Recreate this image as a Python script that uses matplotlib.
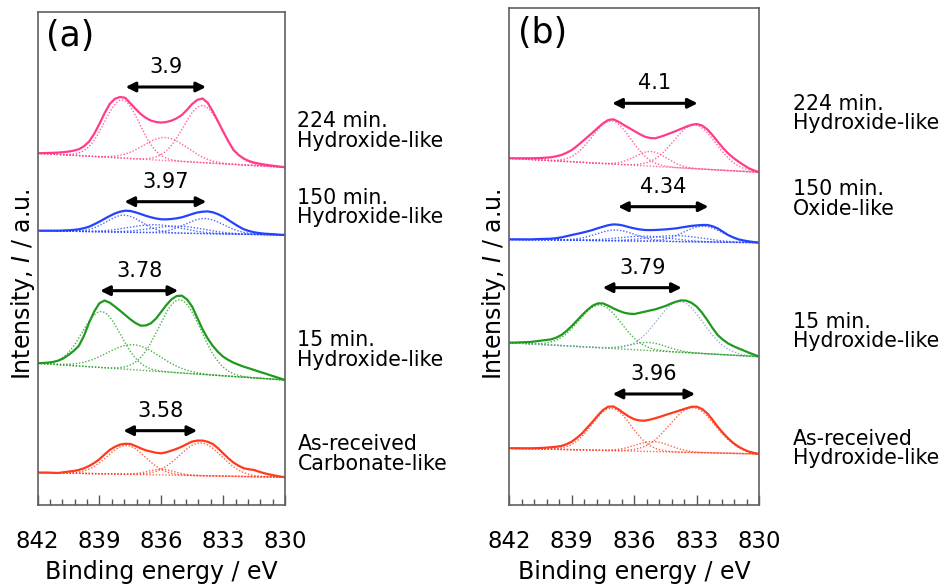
import numpy as np
import matplotlib.pyplot as plt
from matplotlib.ticker import FixedLocator

# binding energy grid of the measured spectra (eV), 0.25 eV steps
ENERGY = np.linspace(842, 830, 49)

# measured La 3d5/2 spectra (a.u., above each trace's offset)
a_224 = [14.0, 14.2, 14.3, 14.5, 14.7, 15.1, 15.7, 16.6, 18.0, 21.0, 25.7, 33.5, 43.3,
         54.0, 63.3, 68.5, 70.3, 69.5, 64.0, 58.5, 53.3, 49.5, 46.7, 45.3, 44.7,
         45.3, 46.7, 49.0, 52.3, 57.5, 63.3, 67.5, 68.8, 64.5, 55.7, 46.0, 35.7,
         26.0, 17.3, 12.3, 8.7, 6.3, 4.7, 3.6, 2.7, 2.0, 1.3, 0.7, 0.0]
a_150 = [4.3, 4.3, 4.3, 4.3, 4.3, 4.5, 4.7, 5.1, 5.7, 6.8, 8.3, 10.7, 13.3,
         16.2, 19.0, 21.5, 23.3, 24.3, 24.0, 22.7, 21.0, 19.2, 17.7, 16.5, 15.7,
         15.6, 16.0, 16.7, 17.7, 19.3, 21.0, 22.5, 23.3, 23.6, 22.7, 20.8, 18.3,
         15.0, 11.7, 8.5, 5.7, 4.0, 2.7, 1.9, 1.3, 1.0, 0.7, 0.3, 0.0]
a_15 = [16.7, 17.0, 17.3, 18.0, 19.3, 21.5, 25.0, 29.0, 34.0, 44.0, 57.3, 68.5, 76.7,
        79.5, 77.3, 73.5, 69.3, 65.0, 60.7, 57.0, 54.3, 54.5, 56.7, 61.5, 68.3,
        75.0, 80.7, 84.0, 84.3, 80.5, 73.3, 62.0, 50.7, 41.5, 34.0, 28.0, 23.3,
        20.0, 17.3, 15.2, 13.3, 11.7, 10.0, 8.3, 6.7, 5.0, 3.3, 1.7, 0.0]
a_asr = [4.7, 4.7, 4.7, 4.5, 4.3, 5.0, 5.7, 6.3, 7.3, 9.0, 11.3, 14.3, 18.0,
         22.8, 27.3, 30.5, 32.7, 33.5, 33.3, 31.3, 29.0, 27.0, 25.7, 24.5, 24.0,
         25.0, 26.7, 28.5, 30.7, 33.3, 35.7, 36.7, 36.7, 35.5, 33.3, 29.0, 24.0,
         19.0, 14.7, 11.5, 9.0, 8.0, 7.3, 5.5, 4.0, 2.8, 1.7, 0.8, 0.0]

b_224 = [14.0, 14.0, 14.0, 14.0, 14.0, 14.1, 14.3, 14.6, 15.0, 16.0, 17.3, 19.5, 22.3,
         26.3, 30.7, 35.2, 39.7, 44.5, 49.0, 52.3, 53.0, 50.5, 47.3, 44.3, 41.3,
         38.3, 35.7, 34.3, 34.0, 35.5, 37.3, 39.3, 41.3, 43.5, 45.7, 47.5, 48.3,
         46.8, 43.0, 37.3, 30.7, 24.5, 19.0, 14.5, 10.7, 7.2, 4.0, 1.8, 0.0]
b_150 = [3.3, 3.3, 3.3, 3.3, 3.3, 3.5, 3.7, 3.8, 4.0, 4.5, 5.3, 6.5, 7.7,
         8.8, 10.0, 11.3, 12.7, 14.5, 16.0, 17.5, 18.3, 18.0, 17.0, 15.5, 14.3,
         13.3, 12.7, 12.6, 12.7, 13.0, 13.3, 13.8, 14.3, 15.2, 16.0, 16.8, 17.3,
         17.7, 17.7, 16.5, 14.3, 11.0, 7.7, 5.3, 3.3, 2.2, 1.3, 0.6, 0.0]
b_15 = [14.0, 14.1, 14.3, 14.5, 14.7, 15.3, 16.0, 16.6, 17.3, 19.0, 21.7, 25.8, 30.7,
        36.2, 41.7, 46.8, 51.0, 53.3, 53.3, 51.0, 48.3, 46.0, 44.0, 43.0, 42.7,
        43.8, 45.0, 46.2, 47.3, 49.0, 50.7, 53.0, 55.0, 56.3, 56.0, 53.8, 50.0,
        44.0, 36.7, 28.8, 21.7, 17.0, 13.3, 10.6, 8.3, 6.2, 4.0, 2.0, 0.0]
b_asr = [5.7, 5.7, 5.7, 5.7, 5.7, 5.8, 6.0, 6.3, 6.7, 7.2, 8.0, 9.8, 12.3,
         16.2, 20.7, 26.5, 32.3, 38.5, 44.0, 47.3, 47.5, 44.5, 40.7, 37.3, 34.7,
         33.5, 33.3, 34.3, 35.7, 37.3, 39.0, 40.7, 42.3, 44.0, 45.7, 47.2, 47.3,
         45.0, 40.7, 34.3, 27.3, 21.2, 15.7, 11.0, 7.3, 4.5, 2.3, 0.9, 0.0]

# vertical offsets of the stacked traces
OFFSETS_A = [337.7, 270.0, 125.0, 27.7]
OFFSETS_B = [332.7, 262.3, 148.3, 51.0]

# fitted components: (centre eV, height, FWHM eV)
comp_a_224 = [(837.9, 58.0, 2.0), (835.8, 23.0, 2.5), (834.0, 57.0, 2.2)]
comp_a_150 = [(837.8, 17.0, 2.0), (836.3, 8.0, 3.0), (835.2, 7.0, 3.0), (833.9, 15.0, 2.2)]
comp_a_15 = [(838.9, 56.0, 2.2), (837.35, 25.0, 3.0), (835.1, 73.0, 2.4)]
comp_a_asr = [(837.7, 28.7, 2.2), (836.0, 5.7, 1.5), (834.1, 32.7, 2.4)]

comp_b_224 = [(837.1, 43.0, 2.2), (835.2, 14.7, 1.8), (833.1, 43.7, 2.4)]
comp_b_150 = [(836.9, 10.7, 2.2), (835.5, 5.0, 3.0), (834.0, 6.0, 3.0), (832.7, 15.7, 2.2)]
comp_b_15 = [(837.65, 42.7, 2.4), (835.3, 8.0, 2.0), (833.8, 50.7, 2.6)]
comp_b_asr = [(837.1, 42.3, 2.2), (835.1, 10.0, 2.0), (833.2, 44.7, 2.6)]

# satellite splitting (eV), arrow centre (eV) and arrow height (a.u.)
SPLIT_A = [3.9, 3.97, 3.78, 3.58]
ARROW_X_A = [835.78, 835.80, 837.07, 836.05]
ARROW_Y_A = [418.0, 303.3, 214.3, 74.3]

SPLIT_B = [4.1, 4.34, 3.79, 3.96]
ARROW_X_B = [835.01, 834.61, 835.62, 835.06]
ARROW_Y_B = [401.7, 298.3, 217.3, 111.0]

SAMPLES_A = ["224 min.\nHydroxide-like", "150 min.\nHydroxide-like",
             "15 min.\nHydroxide-like", "As-received\nCarbonate-like"]
SAMPLES_B = ["224 min.\nHydroxide-like", "150 min.\nOxide-like",
             "15 min.\nHydroxide-like", "As-received\nHydroxide-like"]
SAMPLE_Y_A = [374.2, 297.5, 155.0, 51.0]
SAMPLE_Y_B = [391.5, 306.0, 173.5, 56.5]

XTICKS = [842, 839, 836, 833, 830]

COLORS = ["#FF3C8C", "#2443FF", "#1E9A1E", "#FF3A1E"]

FINE = np.linspace(842, 830, 481)


def gauss(e, centre, height, fwhm):
    return height * np.exp(-4 * np.log(2) * ((e - centre) / fwhm) ** 2)


def draw_panel(ax, spectra, offsets, comps, splits, ax_x, ax_y, samples, sample_y,
               sample_x, tag, ytop, special=None):
    for i, (spec, off, comp) in enumerate(zip(spectra, offsets, comps)):
        c = COLORS[i]
        # linear background from the low-BE end to the high-BE start
        bg = spec[0] * (FINE - 830) / 12.0
        ax.plot(FINE, off + bg, color=c, lw=1.0, ls=(0, (1, 1.3)), alpha=0.75)
        for j, (cen, h, w) in enumerate(comp):
            cc = c
            if special is not None and special == (i, j):
                cc = "#7FA0D0"
            ax.plot(FINE, off + bg + gauss(FINE, cen, h, w), color=cc, lw=1.0,
                    ls=(0, (1, 1.3)), alpha=0.8)
        ax.plot(ENERGY, off + np.array(spec), color=c, lw=1.6)

        x1 = ax_x[i] + splits[i] / 2
        x2 = ax_x[i] - splits[i] / 2
        ax.annotate("", xy=(x2, ax_y[i]), xytext=(x1, ax_y[i]),
                    arrowprops=dict(arrowstyle="<|-|>", color="black", lw=2.2,
                                    mutation_scale=14, shrinkA=0, shrinkB=0))
        ax.text(ax_x[i], ax_y[i] + 20, f"{splits[i]:g}", ha="center", va="center",
                fontsize=15)
        ax.text(sample_x, sample_y[i], samples[i], ha="left", va="center",
                fontsize=14.8, linespacing=0.98, clip_on=False)

    ax.text(0.035, 0.95, tag, transform=ax.transAxes, fontsize=25,
            ha="left", va="center")

    ax.set_xlim(842, 830)
    ax.set_ylim(0, ytop)
    ax.set_yticks([])
    ax.xaxis.set_major_locator(FixedLocator(XTICKS))
    ax.xaxis.set_minor_locator(FixedLocator(842 - 0.6 * np.arange(21)))
    ax.set_xticklabels([str(t) for t in XTICKS])
    ax.tick_params(axis="x", which="major", direction="in", length=7, width=1,
                   colors="#555555", labelcolor="black", labelsize=16.5, pad=18)
    ax.tick_params(axis="x", which="minor", direction="in", length=4, width=1,
                   colors="#555555")
    for s in ax.spines.values():
        s.set_color("#606060")
        s.set_linewidth(1.2)
    ax.set_xlabel("Binding energy / eV", fontsize=17, labelpad=5)


fig = plt.figure(figsize=(9.47, 5.85), dpi=100)
ax_a = fig.add_axes([0.0396, 0.1368, 0.2614, 0.8432])
ax_b = fig.add_axes([0.5378, 0.1368, 0.2640, 0.8490])

draw_panel(ax_a, [a_224, a_150, a_15, a_asr], OFFSETS_A,
           [comp_a_224, comp_a_150, comp_a_15, comp_a_asr],
           SPLIT_A, ARROW_X_A, ARROW_Y_A, SAMPLES_A, SAMPLE_Y_A, 829.4, "(a)", 493.3)
draw_panel(ax_b, [b_224, b_150, b_15, b_asr], OFFSETS_B,
           [comp_b_224, comp_b_150, comp_b_15, comp_b_asr],
           SPLIT_B, ARROW_X_B, ARROW_Y_B, SAMPLES_B, SAMPLE_Y_B, 828.4, "(b)", 496.7,
           special=(2, 2))

fig.text(23 / 947, 1 - 284 / 585, "Intensity, $I$ / a.u.", rotation=90,
         ha="center", va="center", fontsize=17)
fig.text(494 / 947, 1 - 284 / 585, "Intensity, $I$ / a.u.", rotation=90,
         ha="center", va="center", fontsize=17)

fig.savefig("out.png", dpi=100)
